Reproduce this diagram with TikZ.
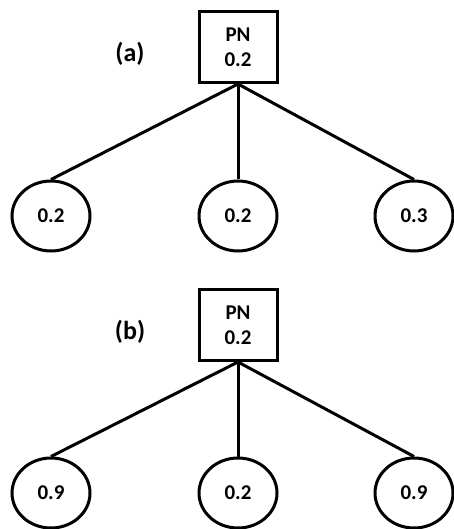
\documentclass[tikz,border=0pt]{standalone}
\usepackage{fontspec}
\setmainfont{Carlito}
\usetikzlibrary{shapes.geometric}
\begin{document}
\begin{tikzpicture}[x=1pt,y=-1pt,
  pnbox/.style={draw,line width=3pt,minimum width=78pt,minimum height=71pt,inner sep=0pt,align=center,font=\fontsize{21}{25}\selectfont\bfseries},
  leaf/.style={draw,ellipse,line width=3pt,minimum width=78pt,minimum height=70pt,inner sep=0pt,font=\fontsize{21}{25}\selectfont\bfseries},
  tag/.style={font=\fontsize{26}{28}\selectfont\bfseries},
  edge/.style={line width=3pt}]
\useasboundingbox (0,0) rectangle (453,529);
% (a)
\node[pnbox] (pa) at (238,47) {PN\\0.2};
\node[tag] (la) at (130,54) {(a)};
\node[leaf] (a1) at (51,216) {0.2};
\node[leaf] (a2) at (238,216) {0.2};
\node[leaf] (a3) at (414,216) {0.3};
\draw[edge] (pa.south) -- (a1.north);
\draw[edge] (pa.south) -- (a2.north);
\draw[edge] (pa.south) -- (a3.north);
% (b)
\node[pnbox] (pb) at (238,325) {PN\\0.2};
\node[tag] (lb) at (130,332) {(b)};
\node[leaf] (b1) at (51,493) {0.9};
\node[leaf] (b2) at (238,493) {0.2};
\node[leaf] (b3) at (414,493) {0.9};
\draw[edge] (pb.south) -- (b1.north);
\draw[edge] (pb.south) -- (b2.north);
\draw[edge] (pb.south) -- (b3.north);
\end{tikzpicture}
\end{document}
